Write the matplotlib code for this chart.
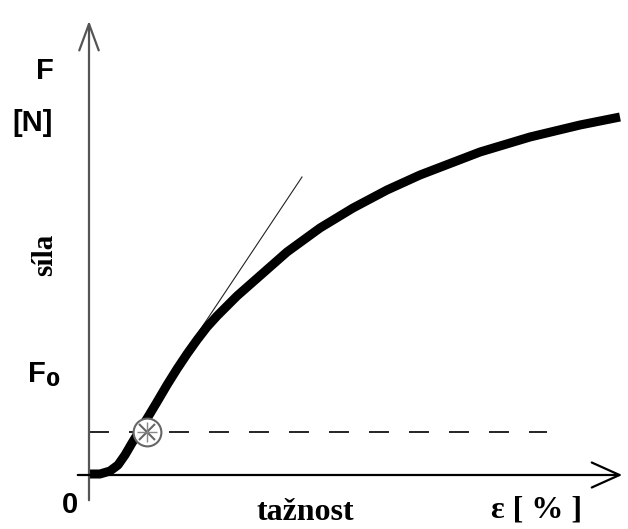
import matplotlib.pyplot as plt

# tahová křivka (tažnost [%], síla)
eps = [0.0, 0.22, 0.42, 0.58, 0.72, 0.86, 1.02, 1.18, 1.36, 1.56, 1.76, 1.96, 2.16, 2.36,
       2.56, 2.96, 3.46, 3.96, 4.62, 5.28, 5.96, 6.62, 7.82, 8.82, 9.82, 10.62]
sila = [0.02, 0.02, 0.08, 0.20, 0.40, 0.64, 0.90, 1.16, 1.46, 1.80, 2.12, 2.42, 2.70, 2.96,
        3.18, 3.58, 4.02, 4.46, 4.94, 5.34, 5.70, 6.00, 6.46, 6.76, 7.00, 7.16]

# tečna v počátku
tecna_x = [1.86, 4.26]
tecna_y = [2.36, 5.96]

# mez F0
F0 = 0.86
F0_x = [0.0, 9.16]
bod_x = 1.16

fig = plt.figure(figsize=(6.28, 5.29), dpi=100)
ax = fig.add_axes([0, 0, 1, 1])
ax.set_xlim(-1.78, 10.78)
ax.set_ylim(-1.08, 9.5)
ax.axis('off')

# osy se šipkami
ax.annotate('', xy=(0, 9.14), xytext=(0, -0.56),
            arrowprops=dict(arrowstyle='->,head_length=1.9,head_width=0.7', color='#555555', lw=1.6))
ax.annotate('', xy=(10.72, 0), xytext=(-0.28, 0),
            arrowprops=dict(arrowstyle='->,head_length=2.0,head_width=0.9', color='black', lw=1.6))

# přerušovaná čára F0
ax.plot(F0_x, [F0, F0], color='black', lw=1.2, dashes=(12, 12))

# tečna
ax.plot(tecna_x, tecna_y, color='#222222', lw=0.8)

# křivka
ax.plot(eps, sila, color='black', lw=6.5, solid_capstyle='butt', solid_joinstyle='round')

# bod na křivce
ax.plot(bod_x, F0, marker='o', ms=20, mfc='white', mec='#666666', mew=1.5)
ax.plot(bod_x, F0, marker='x', ms=12, mec='#666666', mew=1.5)
ax.plot(bod_x, F0, marker='+', ms=15, mec='#888888', mew=1.0)

sans = 'Liberation Sans'
serif = 'Liberation Serif'
ax.text(-0.88, 8.08, 'F', fontfamily=sans, fontweight='bold', fontsize=21, ha='center', va='center')
ax.text(-1.12, 7.04, '[N]', fontfamily=sans, fontweight='bold', fontsize=21, ha='center', va='center')
ax.text(-0.88, 4.4, 'síla', fontfamily=serif, fontweight='bold', fontsize=21, ha='center', va='center',
        rotation=90)
ax.text(-0.9, 2.0, 'F$_\\mathbf{0}$', fontfamily=sans, fontweight='bold', fontsize=21, ha='center',
        va='center')
ax.text(-0.38, -0.6, '0', fontfamily=sans, fontweight='bold', fontsize=21, ha='center', va='center')
ax.text(8.96, -0.7, 'ε [ % ]', fontfamily=serif, fontweight='bold', fontsize=23, ha='center',
        va='center')
ax.text(4.32, -0.74, 'tažnost', fontfamily=serif, fontweight='bold', fontsize=23, ha='center',
        va='center')

plt.savefig('out.png', dpi=100)
